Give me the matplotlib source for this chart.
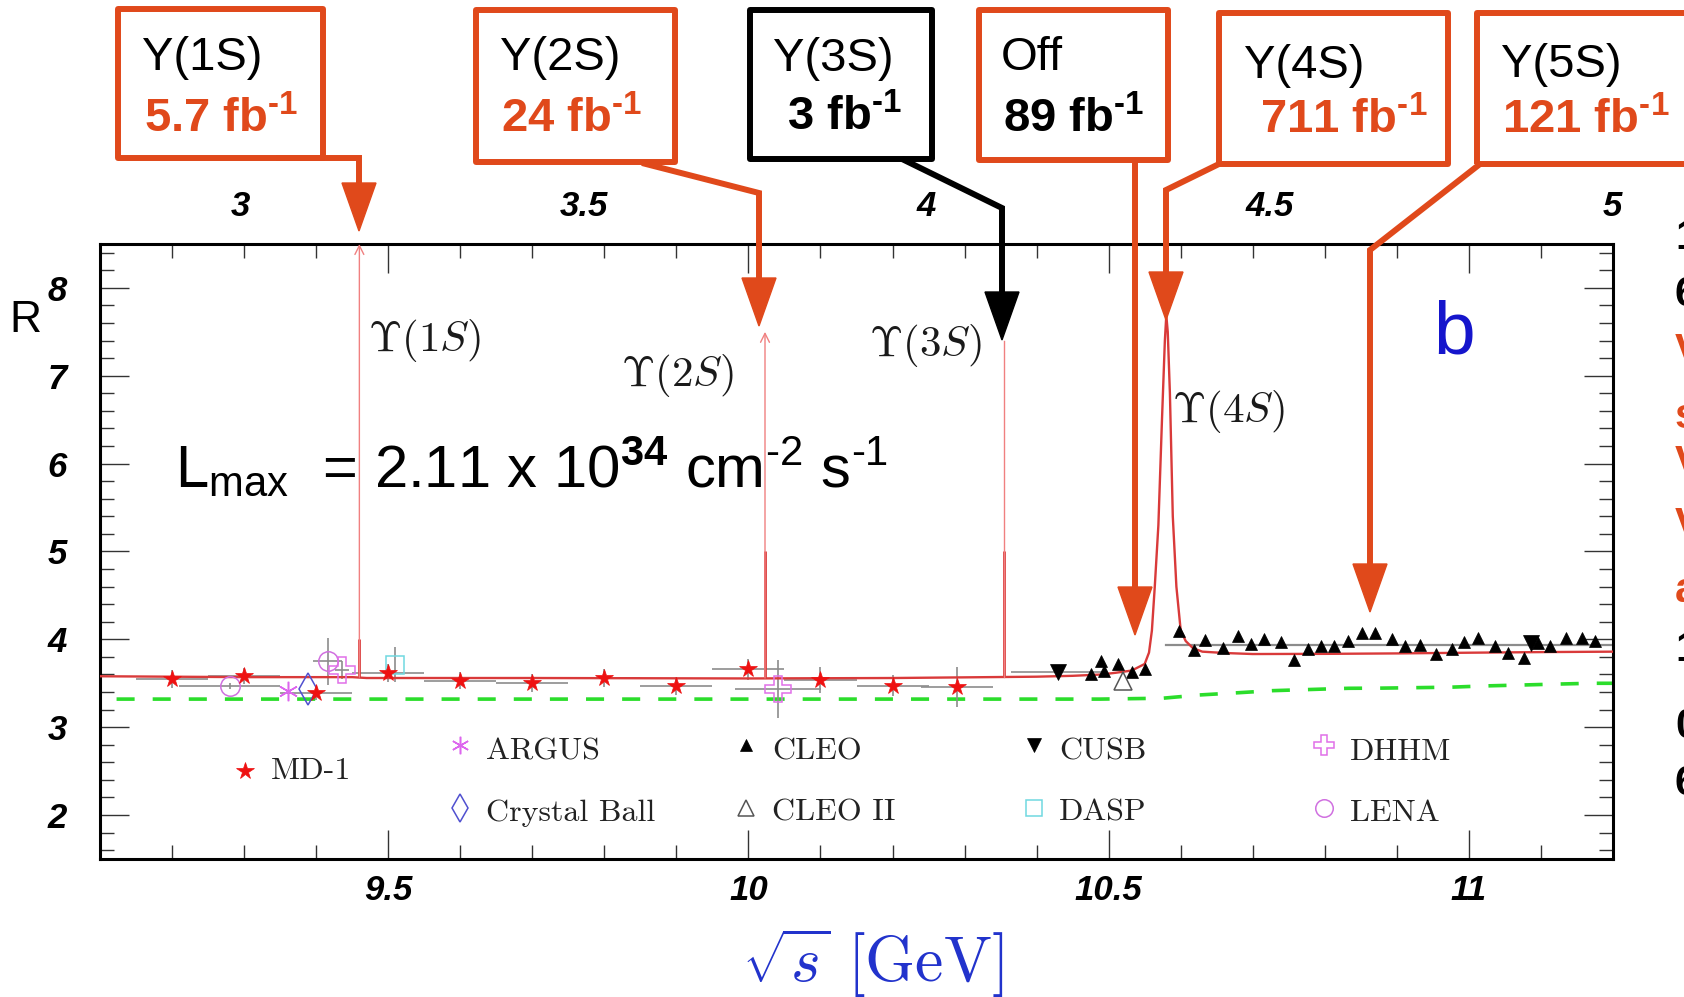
import matplotlib
matplotlib.use('Agg')
import matplotlib.pyplot as plt
from matplotlib.lines import Line2D
from matplotlib.patches import Rectangle, Polygon
from matplotlib.ticker import MultipleLocator

plt.rcParams['font.family'] = ['Liberation Sans', 'DejaVu Sans']
plt.rcParams['mathtext.fontset'] = 'custom'
plt.rcParams['mathtext.rm'] = 'Liberation Sans'
plt.rcParams['mathtext.bf'] = 'Liberation Sans:bold'
plt.rcParams['mathtext.it'] = 'Liberation Sans:italic'

W, H = 1684, 997
ORANGE = '#E0491B'
RED = '#D93A3A'
PINK = '#F08080'
GREY = '#8C8C8C'
HY = '\u2010'  # short hyphen used in the superscripts

# ---- data ----
md1_x = [9.20, 9.30, 9.40, 9.50, 9.60, 9.70, 9.80, 9.90, 10.00, 10.10, 10.20, 10.29]
md1_y = [3.55, 3.58, 3.39, 3.62, 3.53, 3.50, 3.56, 3.47, 3.66, 3.54, 3.47, 3.46]
md1_yerr = [0.10, 0.09, 0.08, 0.10, 0.10, 0.10, 0.10, 0.10, 0.12, 0.15, 0.12, 0.23]
md1_bin = 0.05

lena_x = [9.280, 9.416]
lena_y = [3.47, 3.75]
lena_xerr = [0.07, 0.02]
lena_yerr = [0.03, 0.27]

argus_x = [9.361]
argus_y = [3.41]

cball_x = [9.389]
cball_y = [3.44]

dhhm_x = [9.436, 10.041]
dhhm_y = [3.65, 3.44]
dhhm_xerr = [0.01, 0.06]
dhhm_yerr = [0.10, 0.33]

dasp_x = [9.510]
dasp_y = [3.71]
dasp_yerr = [0.20]

cusb_x = [10.430, 11.086]
cusb_y = [3.63, 3.96]
cusb_xerr = [0.065, 0.0]

cleo2_x = [10.520]
cleo2_y = [3.53]

cleo_x = [10.475, 10.489, 10.494, 10.513, 10.532, 10.551,
          10.598, 10.618, 10.634, 10.659, 10.679, 10.697, 10.716, 10.739,
          10.757, 10.777, 10.795, 10.813, 10.832, 10.852, 10.870, 10.893,
          10.911, 10.932, 10.955, 10.977, 10.993, 11.012, 11.036, 11.054,
          11.077, 11.096, 11.112, 11.135, 11.157, 11.175]
cleo_y = [3.61, 3.75, 3.64, 3.72, 3.63, 3.66,
          4.09, 3.88, 3.99, 3.90, 4.04, 3.95, 4.00, 3.97,
          3.77, 3.89, 3.92, 3.92, 3.98, 4.07, 4.07, 4.00,
          3.92, 3.94, 3.83, 3.89, 3.97, 4.01, 3.93, 3.85,
          3.79, 3.96, 3.92, 4.01, 4.01, 3.98]

grey_band_x = [10.58, 11.20]
grey_band_y = [3.936, 3.936]

curve_x = [9.10, 9.30, 9.45, 9.47, 9.70, 10.00, 10.20, 10.40, 10.45, 10.49,
           10.51, 10.532, 10.55, 10.556, 10.560, 10.564, 10.569, 10.574, 10.578,
           10.580, 10.582, 10.585, 10.589, 10.594, 10.600, 10.607, 10.617,
           10.630, 10.660, 10.700, 10.800, 10.900, 11.000, 11.100, 11.200]
curve_y = [3.58, 3.57, 3.57, 3.56, 3.56, 3.555, 3.56, 3.575, 3.585, 3.60,
           3.62, 3.645, 3.72, 3.85, 4.10, 4.60, 5.30, 6.50, 7.40,
           7.69, 7.50, 6.80, 5.40, 4.60, 4.10, 3.98, 3.90,
           3.86, 3.845, 3.833, 3.835, 3.84, 3.848, 3.855, 3.86]

green_x = [9.123, 10.488, 10.575, 10.626, 10.681, 10.727, 10.782, 10.833,
           10.879, 10.925, 10.976, 11.022, 11.072, 11.118, 11.169, 11.200]
green_y = [3.32, 3.32, 3.33, 3.367, 3.393, 3.416, 3.43, 3.443,
           3.445, 3.45, 3.456, 3.47, 3.48, 3.49, 3.50, 3.50]

ups_x = [9.460, 10.023, 10.355]
ups_base = [3.57, 3.56, 3.57]
ups_thick_top = [4.0, 5.0, 5.0]
ups_thin_top = [8.5, 7.5, 7.4]
ups_arrow = [True, True, False]
ups_names = [r'$\Upsilon(1S)$', r'$\Upsilon(2S)$', r'$\Upsilon(3S)$', r'$\Upsilon(4S)$']

x_ticks = [9.5, 10, 10.5, 11]
x_labels = ['9.5', '10', '10.5', '11']
y_ticks = [2, 3, 4, 5, 6, 7, 8]
y_labels = ['2', '3', '4', '5', '6', '7', '8']
top_ticks = [3, 3.5, 4, 4.5, 5]
top_labels = ['3', '3.5', '4', '4.5', '5']

box_titles = ['Y(1S)', 'Y(2S)', 'Y(3S)', 'Off', 'Y(4S)', 'Y(5S)']
box_lumi = ['5.7', '24', '3', '89', '711', '121']
box_edge = [ORANGE, ORANGE, 'black', ORANGE, ORANGE, ORANGE]
lumi_color = [ORANGE, ORANGE, 'black', 'black', ORANGE, ORANGE]

legend_names = ['ARGUS', 'Crystal Ball', 'CLEO', 'CLEO II', 'CUSB', 'DASP', 'DHHM', 'LENA']

right_chars = ['1', '6', 'V', 's', 'V', 'V', 'a', '1', '0', '6']
right_colors = ['black', 'black', ORANGE, ORANGE, ORANGE, ORANGE, ORANGE, 'black', 'black', 'black']

# ---- layout (pixels of the 1684x997 picture) ----
box_rect = [(118, 9, 323, 158), (476, 10, 675, 162), (750, 10, 932, 159),
            (979, 10, 1168, 160), (1219, 13, 1448, 164), (1477, 13, 1720, 164)]
title_pos = [(142, 70), (500, 70), (773, 71), (1001, 70), (1244, 78), (1501, 77)]
lumi_pos = [(144, 132), (501, 132), (787, 130), (1003, 132), (1260, 133), (1502, 133)]
arrow_paths = [[(276, 158), (359, 158), (359, 231)],
               [(642, 163), (759, 193), (759, 326)],
               [(902, 159), (1002, 208), (1002, 340)],
               [(1135, 160), (1135, 635)],
               [(1219, 164), (1166, 190), (1166, 320)],
               [(1480, 164), (1370, 250), (1370, 612)]]
ups_label_pos = [(9.550, 7.40), (9.901, 7.00), (10.245, 7.34), (10.666, 6.59)]
right_y = [238, 295, 352, 417, 464, 526, 591, 650, 727, 784]

styles = {
    'MD-1': dict(marker='*', ms=13, mfc='#EE1111', mec='#EE1111', mew=0.5),
    'ARGUS': dict(marker=(6, 2, 0), ms=14, mfc='none', mec='#DD66EE', mew=1.1),
    'Crystal Ball': dict(marker='d', ms=16, mfc='none', mec='#5050D0', mew=1.1),
    'CLEO': dict(marker='^', ms=9, mfc='black', mec='black', mew=0.5),
    'CLEO II': dict(marker='^', ms=13, mfc='none', mec='#555555', mew=1.1),
    'CUSB': dict(marker='v', ms=11, mfc='black', mec='black', mew=0.5),
    'DASP': dict(marker='s', ms=13, mfc='none', mec='#70D8E0', mew=1.1),
    'DHHM': dict(marker='P', ms=16, mfc='none', mec='#E070E8', mew=1.1),
    'LENA': dict(marker='o', ms=14, mfc='none', mec='#D070E0', mew=1.1),
}


def fpt(px, py):
    return px / W, 1 - py / H


fig = plt.figure(figsize=(W / 100, H / 100), dpi=100)
ax = fig.add_axes([100 / W, 1 - 859 / H, 1513 / W, 615 / H])
ax.set_xlim(9.1, 11.2)
ax.set_ylim(1.5, 8.5)

# curves
ax.plot(green_x, green_y, color='#2BDD2B', lw=2.6, dashes=(5, 5), zorder=2)
ax.plot(grey_band_x, grey_band_y, color=GREY, lw=1.6, zorder=2)
ax.plot(curve_x, curve_y, color=RED, lw=1.7, zorder=3)
ax.vlines(ups_x, ups_base, ups_thick_top, color=RED, lw=2.0, zorder=3)
for x, b, t, a in zip(ups_x, ups_base, ups_thin_top, ups_arrow):
    if a:
        ax.annotate('', xy=(x, t), xytext=(x, b),
                    arrowprops=dict(arrowstyle='->', color=PINK, lw=1.0,
                                    mutation_scale=16, shrinkA=0, shrinkB=0),
                    zorder=3, annotation_clip=False)
    else:
        ax.plot([x, x], [b, t], color=PINK, lw=1.0, zorder=3)

# error bars
eb = dict(fmt='none', ecolor=GREY, elinewidth=1.2, capsize=0, zorder=2)
ax.errorbar(md1_x, md1_y, xerr=md1_bin, yerr=md1_yerr, **eb)
ax.errorbar(lena_x, lena_y, xerr=lena_xerr, yerr=lena_yerr, **eb)
ax.errorbar(dhhm_x, dhhm_y, xerr=dhhm_xerr, yerr=dhhm_yerr, **eb)
ax.errorbar(dasp_x, dasp_y, yerr=dasp_yerr, **eb)
ax.errorbar(cusb_x, cusb_y, xerr=cusb_xerr, **eb)

# data points
pts = [('LENA', lena_x, lena_y), ('ARGUS', argus_x, argus_y),
       ('Crystal Ball', cball_x, cball_y), ('DHHM', dhhm_x, dhhm_y),
       ('DASP', dasp_x, dasp_y), ('MD-1', md1_x, md1_y),
       ('CLEO', cleo_x, cleo_y), ('CLEO II', cleo2_x, cleo2_y),
       ('CUSB', cusb_x, cusb_y)]
for name, xs, ys in pts:
    st = dict(styles[name])
    if name == 'DHHM':
        st['ms'] = 19
    ax.plot(xs, ys, ls='none', zorder=4, **st)

# legend drawn by hand
col_x = [0.238, 0.238, 0.427, 0.427, 0.617, 0.617, 0.809, 0.809]
row_m = [0.185, 0.083]
row_t = [0.174, 0.075]
for i, name in enumerate(legend_names):
    st = dict(styles[name])
    st['ms'] = st['ms'] * 0.9
    ax.plot([col_x[i]], [row_m[i % 2]], transform=ax.transAxes, ls='none',
            clip_on=False, zorder=5, **st)
    ax.text(col_x[i] + 0.017, row_t[i % 2], name, transform=ax.transAxes,
            family=['cmr10', 'DejaVu Serif'], fontsize=23, va='center', ha='left',
            color='#222222')
ax.plot([0.0958], [0.143], transform=ax.transAxes, ls='none', **styles['MD-1'])
ax.text(0.113, 0.143, 'MD-1', transform=ax.transAxes, family=['cmr10', 'DejaVu Serif'],
        fontsize=23, va='center', ha='left', color='#222222')

# upsilon labels
for (lx, ly), s in zip(ups_label_pos, ups_names):
    ax.text(lx, ly, s, fontsize=31, math_fontfamily='cm', ha='center', va='center',
            color='#1A1A1A')

# axes styling
tick_font = dict(fontsize=25, fontweight='bold', fontstyle='italic')
for sp in ax.spines.values():
    sp.set_linewidth(2.2)
ax.set_xticks(x_ticks, labels=x_labels, **tick_font)
ax.set_yticks(y_ticks, labels=y_labels, **tick_font)
ax.xaxis.set_minor_locator(MultipleLocator(0.1))
ax.yaxis.set_minor_locator(MultipleLocator(0.2))
ax.tick_params(which='both', direction='in', top=True, right=True, color='#333333', width=1.0)
ax.tick_params(which='major', length=21)
ax.tick_params(which='minor', length=10)
ax.tick_params(axis='x', which='major', pad=11)
ax.tick_params(axis='y', which='major', pad=24)

sec = ax.secondary_xaxis('top', functions=(lambda b: 3 + (b - 9.295) * 1.05,
                                           lambda t: 9.295 + (t - 3) / 1.05))
sec.set_xticks(top_ticks, labels=top_labels, **tick_font)
sec.tick_params(length=0, pad=15)
sec.spines['top'].set_visible(False)

ax.set_xlabel(r'$\sqrt{s}\ [\mathrm{GeV}]$', fontsize=46, math_fontfamily='cm',
              color='#2233CC', va='center')
ax.xaxis.set_label_coords(0.511, -0.169)
ax.set_ylabel('R', rotation=0, fontsize=32, ha='center', va='center')
ax.yaxis.set_label_coords(-0.0496, 0.876)

# luminosity text and big letter
fig.text(*fpt(175, 487),
         r'L$_{\mathrm{max}}$  = 2.11 x 10$^{\mathbf{34}}$ cm$^{' + HY + r'2}$ s$^{' + HY + r'1}$',
         fontsize=43, va='baseline', ha='left')
fig.text(*fpt(1433, 353), 'b', fontsize=54, color='#1515CC', va='baseline', ha='left')

# callout boxes and arrows
for (x0, y0, x1, y1), ec in zip(box_rect, box_edge):
    fig.add_artist(Rectangle(fpt(x0, y1), (x1 - x0) / W, (y1 - y0) / H, fill=False,
                             ec=ec, lw=4.3, joinstyle='round', transform=fig.transFigure))

for path, col in zip(arrow_paths, box_edge):
    tx, ty = path[-1]
    head_len, head_w = 48, 34
    xs = [p[0] for p in path[:-1]] + [tx]
    ys = [p[1] for p in path[:-1]] + [ty - head_len + 2]
    fig.add_artist(Line2D([x / W for x in xs], [1 - y / H for y in ys], color=col, lw=4.3,
                          solid_joinstyle='miter', solid_capstyle='butt'))
    fig.add_artist(Polygon([fpt(tx - head_w / 2, ty - head_len), fpt(tx + head_w / 2, ty - head_len),
                            fpt(tx, ty)], closed=True, color=col, transform=fig.transFigure))

for (px, py), s in zip(title_pos, box_titles):
    fig.text(*fpt(px, py), s, fontsize=34, va='baseline', ha='left')
for (px, py), s, c in zip(lumi_pos, box_lumi, lumi_color):
    fig.text(*fpt(px, py), s + r' fb$^{\mathbf{' + HY + r'1}}$', fontsize=34, fontweight='bold',
             color=c, va='baseline', ha='left')

for s, c, py in zip(right_chars, right_colors, right_y):
    fig.text(*fpt(1675, py), s, fontsize=30, fontweight='bold', color=c, va='center', ha='left')

fig.savefig('out.png', dpi=100)
